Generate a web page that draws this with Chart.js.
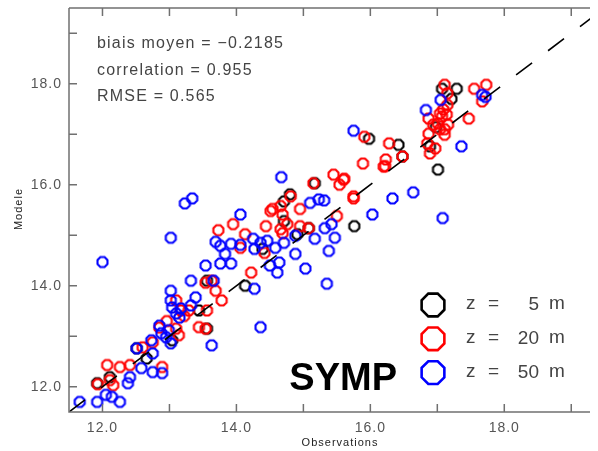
<!DOCTYPE html>
<html>
<head>
<meta charset="utf-8">
<script src="https://cdn.jsdelivr.net/npm/chart.js@4.4.0/dist/chart.umd.min.js"></script>
<style>
html,body{margin:0;padding:0;background:#fff}
#wrap{width:598px;height:451px}
</style>
</head>
<body>
<div id="wrap"><canvas id="c" width="598" height="451"></canvas></div>
<script>
// axis ticks
var xTicks=[12,14,16,18];
var yTicks=[12,14,16,18];
var minorTicks=[13,15,17,19];

// z = 5 m
var obs5=[11.92,12.11,12.51,12.66,13.04,13.44,13.56,13.56,14.13,14.39,14.91,14.71,14.71,14.80,15.17,15.76,15.98,16.42,16.48,17.01,16.89,17.07,17.29,17.21,15.08,16.98];
var mod5=[12.07,12.19,12.76,12.56,12.92,13.51,13.15,14.10,14.00,14.73,15.02,15.28,15.67,15.81,16.03,15.18,16.91,16.79,16.56,16.30,16.76,17.90,17.90,17.70,15.14,17.14];

// z = 20 m
var obs20=[11.93,12.07,12.11,12.16,12.26,12.41,12.60,12.75,12.89,12.85,13.10,13.14,13.10,13.17,13.29,13.44,13.54,13.56,13.54,13.63,
13.69,13.78,14.22,13.73,13.95,14.13,14.06,14.42,14.44,14.66,14.76,14.51,14.66,14.81,14.69,14.54,14.95,15.15,15.45,15.61,
15.54,15.75,15.50,15.89,16.20,14.95,15.08,14.69,15.91,16.28,16.23,16.22,16.48,16.85,16.87,16.94,17.07,17.16,17.01,17.15,
17.04,17.11,16.97,16.89,15.60,15.75,17.11,17.55,17.73,17.67,17.09,16.87,17.14,17.47,17.15,17.11,17.04,12.96,13.22];
var mod20=[12.05,12.43,12.13,12.03,12.39,12.43,12.78,12.88,12.39,13.17,13.15,13.02,13.71,13.51,13.51,13.18,13.15,13.51,14.06,14.10,
13.90,13.71,14.26,15.10,15.22,15.02,14.75,14.65,15.18,15.12,15.22,15.48,15.58,15.77,15.41,15.52,15.52,16.03,16.20,16.12,
16.00,15.73,15.38,16.42,16.36,15.18,15.14,15.04,16.95,16.82,16.50,16.37,16.56,16.82,17.01,17.19,17.35,17.19,17.21,17.58,
17.41,16.99,16.72,16.62,16.10,15.77,17.98,17.90,17.98,17.65,17.49,17.31,17.39,17.31,17.81,17.10,17.10,13.30,13.40];

// z = 50 m
var obs50=[11.66,11.92,12.05,12.14,12.26,12.38,12.41,12.58,12.75,12.89,12.51,12.75,12.85,12.73,12.95,12.99,13.02,13.10,13.04,13.02,
13.02,13.17,13.32,13.39,13.32,13.66,13.63,14.36,14.27,13.54,13.76,13.92,13.69,13.76,13.83,13.92,14.06,14.25,14.36,14.27,
14.46,14.58,14.71,14.64,14.50,14.61,14.88,15.03,14.88,15.17,15.47,15.35,15.32,15.42,15.10,15.23,15.31,16.03,16.33,16.64,
17.08,17.36,15.75,16.83,17.05,17.67,17.72,14.67,14.06,13.23,13.34,13.02,12.00,15.38,13.15,12.88];
var mod50=[11.70,11.70,11.84,11.80,11.70,12.07,12.19,12.37,12.29,12.27,12.76,12.66,13.21,12.92,12.98,13.12,12.86,13.45,13.57,13.71,
13.90,13.55,13.61,13.77,14.10,14.10,12.82,13.18,13.94,14.40,14.44,14.44,14.87,14.79,14.63,14.83,14.81,14.93,14.85,14.73,
14.89,14.75,14.85,14.46,14.40,14.26,14.63,14.34,14.99,14.93,14.95,14.04,15.14,15.22,15.64,15.71,15.69,15.41,15.73,15.85,
15.34,16.76,17.07,17.48,17.68,17.78,17.74,16.15,15.41,15.63,15.73,14.95,14.47,14.69,13.37,13.06];

var seriesNames=["z =  5 m","z = 20 m","z = 50 m"];
var seriesColors=["#000000","#ff0000","#0000ff"];
var statLines=["biais moyen = \u22120.2185","correlation = 0.955","RMSE = 0.565"];

function pts(xs,ys){
  var out=[];
  for(var i=0;i<xs.length;i++) out.push({x:xs[i],y:ys[i]});
  return out;
}

function octagonPath(g,cx,cy,r){
  g.beginPath();
  for(var k=0;k<8;k++){
    var a=Math.PI/8+k*Math.PI/4;
    var px=cx+r*Math.cos(a), py=cy+r*Math.sin(a);
    if(k==0) g.moveTo(px,py); else g.lineTo(px,py);
  }
  g.closePath();
}

function octagon(color,r,lw){
  var s=Math.ceil(2*r+lw+2);
  var c=document.createElement('canvas');
  c.width=s; c.height=s;
  var g=c.getContext('2d');
  g.strokeStyle=color; g.lineWidth=lw;
  octagonPath(g,s/2,s/2,r);
  g.stroke();
  return c;
}

var frame={
  id:'frame',
  afterDraw:function(chart){
    var ctx=chart.ctx, a=chart.chartArea;
    var xs=chart.scales.x, ys=chart.scales.y;
    ctx.save();
    ctx.strokeStyle="#707070";
    ctx.lineWidth=1.5;
    ctx.beginPath();
    ctx.moveTo(a.left,a.top); ctx.lineTo(a.left,a.bottom); ctx.lineTo(a.right,a.bottom);
    ctx.moveTo(a.left,a.top); ctx.lineTo(a.right,a.top);
    var all=xTicks.concat(minorTicks);
    all.forEach(function(v){
      var px=xs.getPixelForValue(v);
      ctx.moveTo(px,a.bottom); ctx.lineTo(px,a.bottom-8);
      ctx.moveTo(px,a.top); ctx.lineTo(px,a.top+8);
    });
    yTicks.concat(minorTicks).forEach(function(v){
      var py=ys.getPixelForValue(v);
      ctx.moveTo(a.left,py); ctx.lineTo(a.left+8,py);
    });
    ctx.stroke();

    ctx.fillStyle="#555";
    ctx.font="14px 'Liberation Sans'";
    ctx.letterSpacing="1px";
    ctx.textAlign="center"; ctx.textBaseline="alphabetic";
    xTicks.forEach(function(v){
      ctx.fillText(v.toFixed(1),xs.getPixelForValue(v),432);
    });
    ctx.textAlign="right"; ctx.textBaseline="middle";
    yTicks.forEach(function(v){
      ctx.fillText(v.toFixed(1),62,ys.getPixelForValue(v));
    });

    ctx.fillStyle="#222";
    ctx.font="11px 'Liberation Sans'";
    ctx.textAlign="center"; ctx.textBaseline="middle";
    ctx.fillText("Observations",340,443);
    ctx.save();
    ctx.translate(19,209); ctx.rotate(-Math.PI/2);
    ctx.fillText("Modele",0,0);
    ctx.restore();

    ctx.fillStyle="#444";
    ctx.font="16px 'Liberation Sans'";
    ctx.letterSpacing="1.2px";
    ctx.textAlign="left"; ctx.textBaseline="alphabetic";
    statLines.forEach(function(t,i){
      ctx.fillText(t,97,48+i*26.7);
    });

    // legend
    ctx.letterSpacing="0px";
    ctx.font="19px 'Liberation Sans'";
    for(var i=0;i<3;i++){
      var cy=305+i*33.8;
      ctx.strokeStyle=seriesColors[i]; ctx.lineWidth=2.6;
      octagonPath(ctx,433,cy,12.3);
      ctx.stroke();
      var parts=seriesNames[i].split(/\s+/);
      ctx.fillStyle="#444"; ctx.textBaseline="middle";
      ctx.textAlign="left";
      ctx.fillText(parts[0],466,cy-1);
      ctx.fillText(parts[1],488,cy-1);
      ctx.textAlign="right";
      ctx.fillText(parts[2],539,cy);
      ctx.textAlign="left";
      ctx.fillText(parts[3],549,cy-1);
    }

    ctx.fillStyle="#000";
    ctx.font="bold 38px 'Liberation Sans'";
    ctx.textAlign="right"; ctx.textBaseline="alphabetic";
    ctx.fillText("SYMP",397,390);
    ctx.restore();
  }
};

new Chart(document.getElementById('c'),{
  type:'scatter',
  data:{
    datasets:[
      {type:'line',data:[{x:11.5,y:11.5},{x:19.5,y:19.5}],borderColor:'#000',borderWidth:1.6,borderDash:[20,20],pointRadius:0,fill:false},
      {data:pts(obs50,mod50),pointStyle:octagon(seriesColors[2],5.4,2.1),pointRadius:7},
      {data:pts(obs20,mod20),pointStyle:octagon(seriesColors[1],5.4,2.1),pointRadius:7},
      {data:pts(obs5,mod5),pointStyle:octagon(seriesColors[0],5.4,2.1),pointRadius:7}
    ]
  },
  options:{
    responsive:false,
    animation:false,
    layout:{padding:{left:69,right:0,top:6,bottom:39}},
    scales:{
      x:{type:'linear',min:11.5,max:19.28,display:false},
      y:{type:'linear',min:11.5,max:19.5,display:false}
    },
    plugins:{legend:{display:false},tooltip:{enabled:false}}
  },
  plugins:[frame]
});
</script>
</body>
</html>
